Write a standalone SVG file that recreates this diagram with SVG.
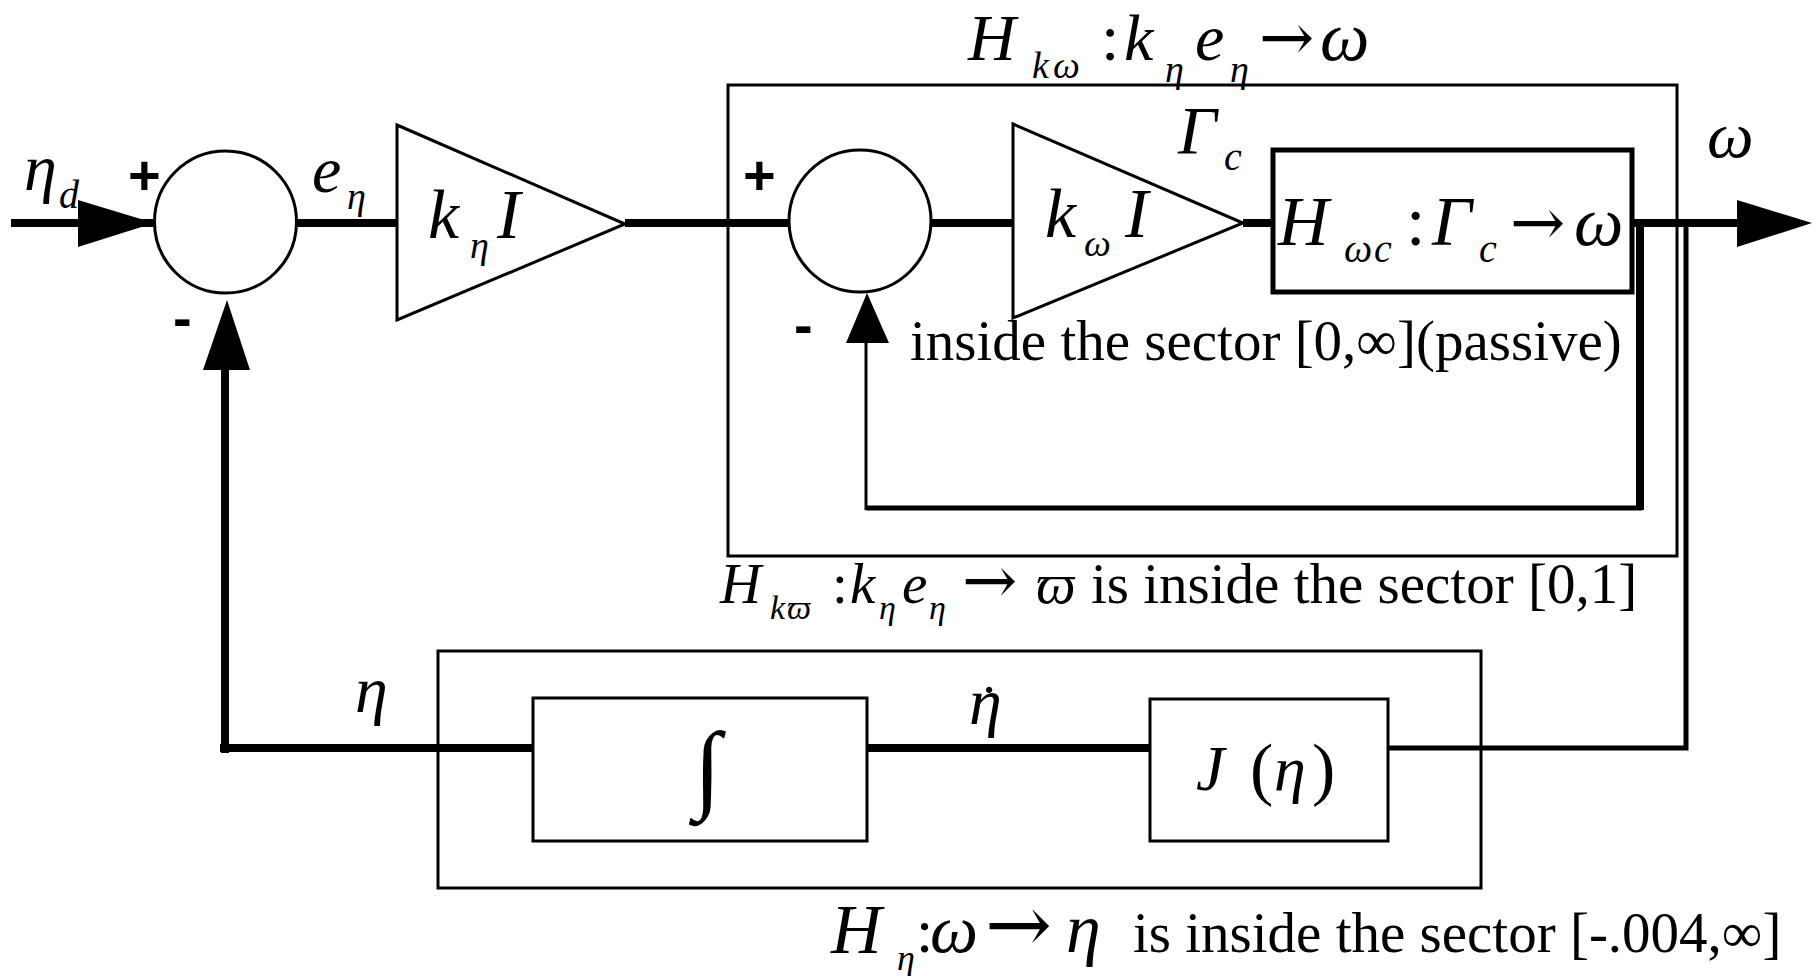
<svg xmlns="http://www.w3.org/2000/svg" width="1818" height="976" viewBox="0 0 1818 976">
<style>
.ln{stroke:#000;fill:none;stroke-linecap:butt}
.tk{stroke-width:8}
.md{stroke-width:5}
.tn{stroke-width:3}
.sh{fill:#fff;stroke:#000;stroke-width:3}
.ah{fill:#000;stroke:none}
.m{font-family:"Liberation Serif","DejaVu Serif",serif;font-style:italic;fill:#000}
.r{font-family:"Liberation Serif","DejaVu Serif",serif;fill:#000}
.ar{font-family:"DejaVu Serif","Liberation Serif",serif;fill:#000}
.sg{font-family:"Liberation Sans",Arial,sans-serif;font-weight:bold;fill:#000}
</style>
<rect width="1818" height="976" fill="#fff"/>

<g id="connectors">
  <line class="ln tk" x1="11" y1="223" x2="154" y2="223"/>
  <polygon class="ah" points="78,200 154,223 78,247"/>
  <line class="ln tk" x1="297" y1="223" x2="397" y2="223"/>
  <line class="ln tk" x1="625" y1="223" x2="789" y2="223"/>
  <line class="ln tk" x1="932" y1="223" x2="1013" y2="223"/>
  <line class="ln tk" x1="1243" y1="223" x2="1273" y2="223"/>
  <line class="ln tk" x1="1632" y1="223" x2="1740" y2="223"/>
  <polygon class="ah" points="1737,200 1812,223 1737,247"/>
  <polyline class="ln tk" points="1640,223 1640,510"/>
  <line class="ln md" x1="1642" y1="508" x2="866" y2="508"/>
  <line class="ln tn" x1="866" y1="510" x2="866" y2="340"/>
  <polygon class="ah" points="846,343 867,293 889,343"/>
  <polyline class="ln md" points="1686,223 1686,748 1388,748"/>
  <line class="ln tk" x1="1150" y1="748" x2="867" y2="748"/>
  <line class="ln tk" x1="533" y1="748" x2="220" y2="748"/>
  <line class="ln tk" x1="225" y1="753" x2="225" y2="366"/>
  <polygon class="ah" points="203,370 227,300 250,370"/>
</g>

<g id="input-label">
  <text class="m" x="24" y="190" font-size="66">η</text>
  <text class="m" x="59" y="208" font-size="40">d</text>
</g>

<g id="sum1">
  <circle class="sh" cx="225.5" cy="222" r="71"/>
  <text class="sg" x="128" y="194" font-size="56">+</text>
  <text class="sg" x="173" y="337" font-size="56">-</text>
</g>

<g id="error-label">
  <text class="m" x="312" y="192" font-size="66">e</text>
  <text class="m" x="347" y="209" font-size="38">η</text>
</g>

<g id="gain-keta">
  <polygon class="sh" points="397,125 625,224 397,320"/>
  <text class="m" x="428" y="238" font-size="70">k</text>
  <text class="m" x="470" y="258" font-size="38">η</text>
  <text class="m" x="497" y="238" font-size="70">I</text>
</g>

<g id="Hkw-box">
  <rect class="ln tn" x="728" y="85" width="949" height="471"/>
  <text class="m" x="968" y="60" font-size="66">H</text>
  <text class="m" y="78" font-size="38"><tspan x="1032">k</tspan><tspan x="1053">ω</tspan></text>
  <text class="r" x="1101" y="60" font-size="66">:</text>
  <text class="m" x="1124" y="60" font-size="66">k</text>
  <text class="m" x="1165" y="82" font-size="38">η</text>
  <text class="m" x="1195" y="60" font-size="66">e</text>
  <text class="m" x="1230" y="82" font-size="38">η</text>
  <text class="ar" x="1259" y="60" font-size="66">→</text>
  <text class="m" x="1320" y="60" font-size="70">ω</text>
  <text class="m" x="720" y="603" font-size="57">H</text>
  <text class="m" y="619" font-size="34"><tspan x="770">k</tspan><tspan x="787">ϖ</tspan></text>
  <text class="r" x="832" y="603" font-size="57">:</text>
  <text class="m" x="850" y="603" font-size="57">k</text>
  <text class="m" x="879" y="619" font-size="34">η</text>
  <text class="m" x="902" y="603" font-size="57">e</text>
  <text class="m" x="929" y="619" font-size="34">η</text>
  <text class="ar" x="962" y="603" font-size="66">→</text>
  <text class="m" x="1036" y="603" font-size="56">ϖ</text>
  <text class="r" x="1091" y="603" font-size="57">is inside the sector [0,1]</text>
</g>

<g id="sum2">
  <circle class="sh" cx="860" cy="221" r="71"/>
  <text class="sg" x="743" y="194" font-size="56">+</text>
  <text class="sg" x="794" y="344" font-size="56">-</text>
</g>

<g id="gain-kw">
  <polygon class="sh" points="1013,124 1243,223 1013,318"/>
  <text class="m" x="1045" y="237" font-size="70">k</text>
  <text class="m" x="1084" y="256" font-size="38">ω</text>
  <text class="m" x="1125" y="237" font-size="70">I</text>
</g>

<g id="torque-label">
  <text class="m" x="1178" y="153" font-size="68">Γ</text>
  <text class="m" x="1224" y="170" font-size="40">c</text>
</g>

<g id="Hwc-box">
  <rect class="ln md" x="1273" y="150" width="359" height="142" fill="#fff"/>
  <text class="m" x="1278" y="245" font-size="70">H</text>
  <text class="m" y="262" font-size="40"><tspan x="1344">ω</tspan><tspan x="1374">c</tspan></text>
  <text class="r" x="1406" y="245" font-size="70">:</text>
  <text class="m" x="1432" y="245" font-size="70">Γ</text>
  <text class="m" x="1479" y="262" font-size="40">c</text>
  <text class="ar" x="1510" y="245" font-size="66">→</text>
  <text class="m" x="1574" y="245" font-size="70">ω</text>
  <text class="r" x="910" y="360" font-size="57">inside the sector [0,∞](passive)</text>
</g>

<g id="output-label">
  <text class="m" x="1707" y="157" font-size="66">ω</text>
</g>

<g id="Heta-box">
  <rect class="ln tn" x="438" y="651" width="1043" height="237"/>
  <text class="m" x="355" y="712" font-size="66">η</text>
  <text class="m" x="969" y="724" font-size="66">η</text>
  <text class="r" x="989" y="726" font-size="60" text-anchor="middle">˙</text>
  <text class="m" x="831" y="953" font-size="70">H</text>
  <text class="m" x="897" y="970" font-size="36">η</text>
  <text class="r" x="916" y="952" font-size="62">:</text>
  <text class="m" x="930" y="952" font-size="68">ω</text>
  <text class="ar" x="985" y="952" font-size="80">→</text>
  <text class="m" x="1066" y="952" font-size="70">η</text>
  <text class="r" x="1133" y="952" font-size="57">is inside the sector [-.004,∞]</text>
</g>

<g id="integrator">
  <rect class="sh" x="533" y="698" width="334" height="143"/>
  <text class="m" x="694" y="800" font-size="98">∫</text>
</g>

<g id="J-block">
  <rect class="sh" x="1150" y="699" width="238" height="142"/>
  <text class="m" x="1196" y="790" font-size="64">J</text>
  <text class="r" x="1250" y="792" font-size="70">(</text>
  <text class="m" x="1274" y="790" font-size="64">η</text>
  <text class="r" x="1312" y="792" font-size="70">)</text>
</g>
</svg>
